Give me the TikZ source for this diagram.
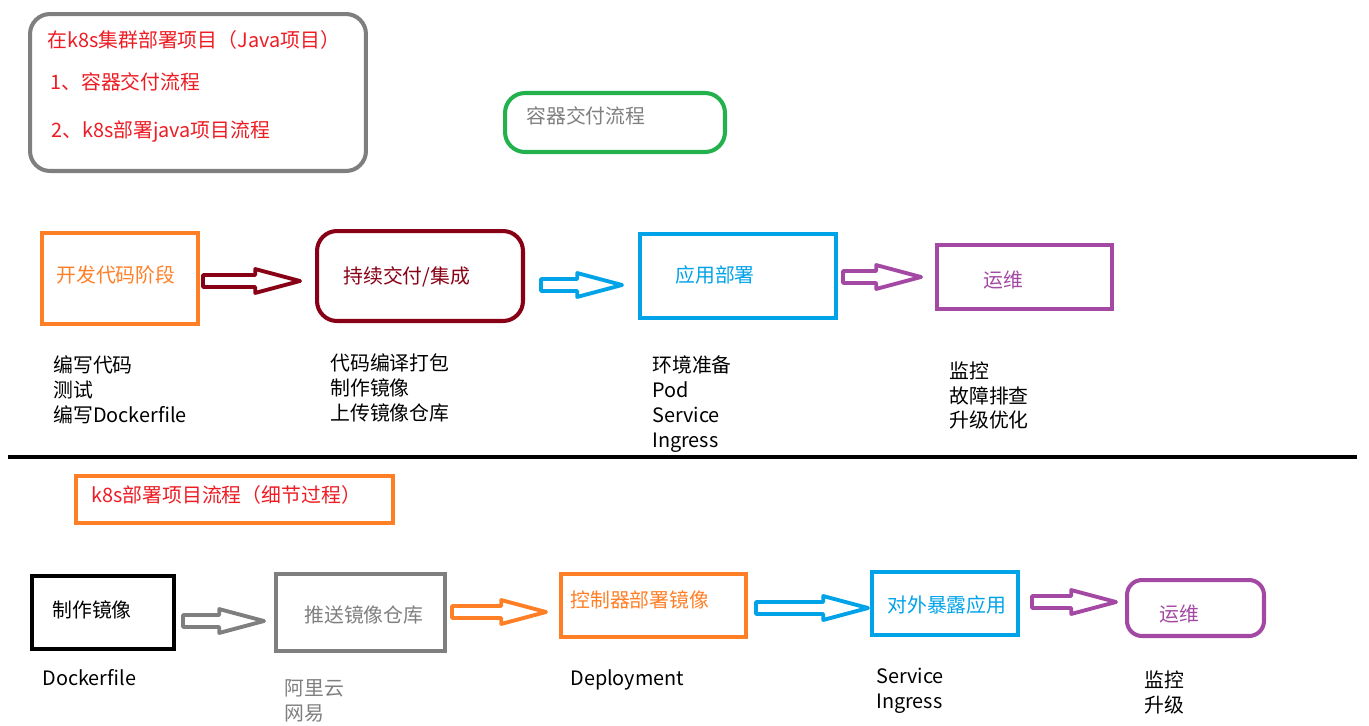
\documentclass[tikz,border=0pt]{standalone}
\usepackage{fontspec}
\setmainfont{Noto Sans CJK SC}
\usetikzlibrary{calc}

\definecolor{boxgray}{HTML}{7F7F7F}
\definecolor{boxred}{HTML}{ED1C24}
\definecolor{boxgreen}{HTML}{22B14C}
\definecolor{boxorange}{HTML}{FF7F27}
\definecolor{boxdarkred}{HTML}{880015}
\definecolor{boxblue}{HTML}{00A2E8}
\definecolor{boxpurple}{HTML}{A349A4}

\tikzset{
  every node/.style={font=\fontsize{11.3}{14.2}\selectfont},
  box/.style={draw, line width=2.3pt, inner sep=0pt},
  lbl/.style={anchor=base west, inner sep=0pt},
  lst/.style={anchor=north west, inner sep=0pt, align=left, execute at begin node=\strut},
  fatarrow/.style={line width=2.2pt, line join=round, to path={
    let \p1=(\tikztostart), \p2=(\tikztotarget) in
    (\x1,\y1+3.4pt) -- (\x2-25.5pt,\y1+3.4pt) -- (\x2-25.5pt,\y1+6.8pt) -- (\x2,\y1)
    -- (\x2-25.5pt,\y1-6.8pt) -- (\x2-25.5pt,\y1-3.4pt) -- (\x1,\y1-3.4pt) -- cycle}}
}

\begin{document}
\begin{tikzpicture}[x=0.02cm,y=-0.02cm]
\useasboundingbox (0,0) rectangle (1369,725);

% heading
\node[box, draw=boxgray, rounded corners=0.4cm, minimum width=6.72cm, minimum height=3.14cm] (intro) at (198,92.5) {};
\node[lbl, text=boxred] (introa) at (47,47) {在k8s集群部署项目（Java项目）};
\node[lbl, text=boxred] (introb) at (50,89) {1、容器交付流程};
\node[lbl, text=boxred] (introc) at (51,137) {2、k8s部署java项目流程};

\node[box, draw=boxgreen, rounded corners=0.4cm, minimum width=4.4cm, minimum height=1.18cm] (flow) at (615,122.5) {};
\node[lbl, text=boxgray] (flowlbl) at (526,123.5) {容器交付流程};

% top row
\node[box, draw=boxorange, minimum width=3.12cm, minimum height=1.82cm] (dev) at (120,278.5) {};
\node[lbl, text=boxorange] (devlbl) at (56,282) {开发代码阶段};
\node[box, draw=boxdarkred, rounded corners=0.4cm, minimum width=4.12cm, minimum height=1.8cm] (ci) at (420,276) {};
\node[lbl, text=boxdarkred] (cilbl) at (343,283.5) {持续交付/集成};
\node[box, draw=boxblue, minimum width=3.92cm, minimum height=1.68cm] (deploy) at (738,276) {};
\node[lbl, text=boxblue] (deploylbl) at (675,282.5) {应用部署};
\node[box, draw=boxpurple, minimum width=3.5cm, minimum height=1.28cm] (ops) at (1024.5,277) {};
\node[lbl, text=boxpurple] (opslbl) at (983,287) {运维};

\draw[fatarrow, draw=boxdarkred] ([shift={(3,2.5)}]dev.east) to ([shift={(-15,0)}]ci.west);
\draw[fatarrow, draw=boxblue] ([shift={(16,9)}]ci.east) to ([shift={(-16,0)}]deploy.west);
\draw[fatarrow, draw=boxpurple] ([shift={(5,1)}]deploy.east) to ([shift={(-14,0)}]ops.west);

\node[lst] (devlist) at (53,355) {编写代码\\测试\\编写Dockerfile};
\node[lst] (cilist) at (330,353) {代码编译打包\\制作镜像\\上传镜像仓库};
\node[lst] (deploylist) at (652,355) {环境准备\\Pod\\Service\\Ingress};
\node[lst] (opslist) at (949,361) {监控\\故障排查\\升级优化};

% divider
\draw[line width=2.8pt] (8,457) -- (1357,457);

% bottom row
\node[box, draw=boxorange, minimum width=6.34cm, minimum height=0.94cm] (detail) at (234.5,499.5) {};
\node[lbl, text=boxred] (detaillbl) at (91,502.5) {k8s部署项目流程（细节过程）};

\node[box, draw=black, minimum width=2.84cm, minimum height=1.46cm] (build) at (103,612.5) {};
\node[lbl] (buildlbl) at (52,617.5) {制作镜像};
\node[box, draw=boxgray, minimum width=3.38cm, minimum height=1.54cm] (push) at (360.5,612.5) {};
\node[lbl, text=boxgray] (pushlbl) at (304,622.5) {推送镜像仓库};
\node[box, draw=boxorange, minimum width=3.7cm, minimum height=1.26cm] (ctrl) at (653.5,605.5) {};
\node[lbl, text=boxorange] (ctrllbl) at (570,607.5) {控制器部署镜像};
\node[box, draw=boxblue, minimum width=2.92cm, minimum height=1.26cm] (expose) at (945,603.5) {};
\node[lbl, text=boxblue] (exposelbl) at (887,612.5) {对外暴露应用};
\node[box, draw=boxpurple, rounded corners=0.3cm, minimum width=2.74cm, minimum height=1.12cm] (ops2) at (1195.5,608) {};
\node[lbl, text=boxpurple] (ops2lbl) at (1159,621.5) {运维};

\draw[fatarrow, draw=boxgray] ([shift={(7,8.5)}]build.east) to ([shift={(-10,0)}]push.west);
\draw[fatarrow, draw=boxorange] ([shift={(5,-0.5)}]push.east) to ([shift={(-13,0)}]ctrl.west);
\draw[fatarrow, draw=boxblue] ([shift={(8,2.5)}]ctrl.east) to ([shift={(-2,0)}]expose.west);
\draw[fatarrow, draw=boxpurple] ([shift={(12,-1.5)}]expose.east) to ([shift={(-9,0)}]ops2.west);

\node[lst] (buildlist) at (42,668) {Dockerfile};
\node[lst, text=boxgray] (pushlist) at (284,679) {阿里云\\网易};
\node[lst] (ctrllist) at (570,668) {Deployment};
\node[lst] (exposelist) at (876,668) {Service\\Ingress};
\node[lst] (ops2list) at (1144,670) {监控\\升级};
\end{tikzpicture}
\end{document}
